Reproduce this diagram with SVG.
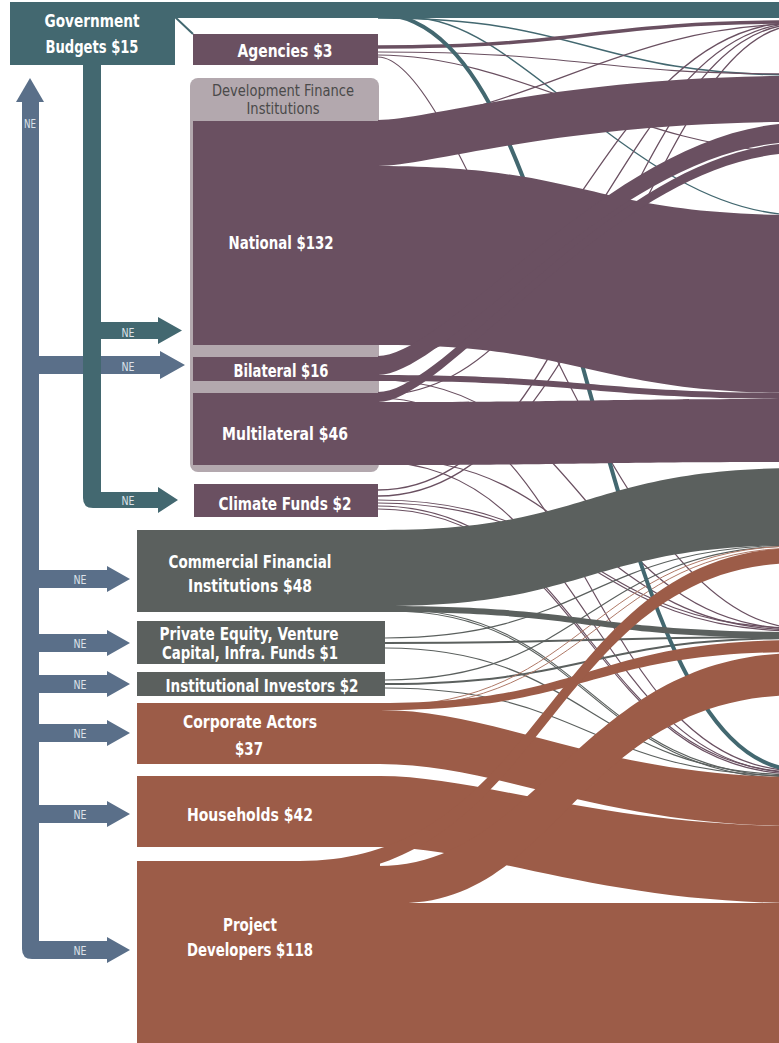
<svg xmlns="http://www.w3.org/2000/svg" width="779" height="1043" viewBox="0 0 779 1043">
<style>
.teal{fill:#436870}.pur{fill:#6a5061}.gry{fill:#5b605e}.rst{fill:#9c5c48}.blu{fill:#5a6f89}
.lt{fill:none;stroke:#436870}.lp{fill:none;stroke:#6a5061}.lg{fill:none;stroke:#5b605e}.lr{fill:none;stroke:#b07a68}
.lbl{font-family:"DejaVu Sans Condensed","Liberation Sans Narrow","Roboto",sans-serif;font-weight:bold;font-size:18.5px;fill:#fff;text-anchor:middle}
.ne{font-family:"DejaVu Sans Condensed","Liberation Sans",sans-serif;font-size:13px;fill:#dde3ea;text-anchor:middle}
.dfi{font-family:"DejaVu Sans Condensed","Liberation Sans",sans-serif;font-size:15px;fill:#4a4a4a;text-anchor:middle}
</style>
<rect width="779" height="1043" fill="#fff"/>
<g id="ne-arrows">
<path class="blu" d="M22,102 L39,102 L39,941 L107,941 L107,937 L130,950 L107,963 L107,959 L32,959 Q22,959 22,949 Z"/>
<path class="blu" d="M16,102 L30,78 L44,102 Z"/>
<path class="blu" d="M39,570 H107 V566 L130,579 L107,592 V588 H39 Z"/>
<path class="blu" d="M39,634 H107 V630 L130,643 L107,656 V652 H39 Z"/>
<path class="blu" d="M39,675 H107 V671 L130,684 L107,697 V693 H39 Z"/>
<path class="blu" d="M39,724 H107 V720 L130,733 L107,746 V742 H39 Z"/>
<path class="blu" d="M39,805 H107 V801 L130,814 L107,827 V823 H39 Z"/>
<path class="blu" d="M39,356 H160 V351 L185,365 L160,379 V374 H39 Z"/>
<path class="teal" d="M83,60 L101,60 L101,492 L158,492 L158,487 L178,500 L158,513 L158,508 L93,508 Q83,508 83,498 Z"/>
<path class="teal" d="M101,322 H158 V317 L182,330.5 L158,344 V339 H101 Z"/>
<text class="ne" x="30" y="128" textLength="12" lengthAdjust="spacingAndGlyphs">NE</text>
<text class="ne" x="128" y="337" textLength="13" lengthAdjust="spacingAndGlyphs">NE</text>
<text class="ne" x="128" y="371" textLength="13" lengthAdjust="spacingAndGlyphs">NE</text>
<text class="ne" x="128" y="505" textLength="13" lengthAdjust="spacingAndGlyphs">NE</text>
<text class="ne" x="80" y="584" textLength="13" lengthAdjust="spacingAndGlyphs">NE</text>
<text class="ne" x="80" y="648" textLength="13" lengthAdjust="spacingAndGlyphs">NE</text>
<text class="ne" x="80" y="689" textLength="13" lengthAdjust="spacingAndGlyphs">NE</text>
<text class="ne" x="80" y="738" textLength="13" lengthAdjust="spacingAndGlyphs">NE</text>
<text class="ne" x="80" y="819" textLength="13" lengthAdjust="spacingAndGlyphs">NE</text>
<text class="ne" x="80" y="955" textLength="13" lengthAdjust="spacingAndGlyphs">NE</text>
</g>
<g id="dfi-group">
<rect x="190" y="78" width="189" height="394" rx="8" fill="#b3a8ae"/>
<text class="dfi" x="283" y="96" textLength="142" lengthAdjust="spacingAndGlyphs">Development Finance</text>
<text class="dfi" x="283" y="114" textLength="73" lengthAdjust="spacingAndGlyphs">Institutions</text>
</g>
<g id="connectors">
<path class="lt" stroke-width="1.5" d="M378,18 C589,18 589,75 800,75"/>
<path class="lt" stroke-width="1.3" d="M413,18 C520,18 640,215 800,215"/>
<path class="lt" stroke-width="2" d="M175,17 L193,34"/>
<path class="lp" stroke-width="3.5" d="M378,47 C589,47 589,22 800,22"/>
<path class="lp" stroke-width="1.2" d="M378,52 C589,52 589,74 800,74"/>
<path class="lp" stroke-width="1.2" d="M378,55 C520,55 640,152 800,152"/>
<path class="lp" stroke-width="1.2" d="M378,57 C470,57 600,628 800,628"/>
<path class="lp" stroke-width="1.3" d="M378,121 C520,121 620,24 800,24"/>
<path class="lp" stroke-width="1.3" d="M378,360 C560,360 600,22 800,22"/>
<path class="lp" stroke-width="1.3" d="M378,395 C580,395 620,23 800,23"/>
<path class="lp" stroke-width="1.3" d="M378,490 C590,490 620,24 800,24"/>
<path class="lp" stroke-width="1.3" d="M378,496 C600,496 650,25 800,25"/>
<path class="lp" stroke-width="1.2" d="M378,380 C589,380 589,629 800,629"/>
<path class="lp" stroke-width="1.2" d="M378,398 C589,398 589,771 800,771"/>
<path class="lp" stroke-width="1.2" d="M378,458 C589,458 589,630 800,630"/>
<path class="lp" stroke-width="1.2" d="M378,462 C589,462 589,773 800,773"/>
<path class="lp" stroke-width="1.2" d="M378,500 C589,500 589,628 800,628"/>
<path class="lp" stroke-width="1.2" d="M378,503 C589,503 589,631 800,631"/>
<path class="lp" stroke-width="1.2" d="M378,506 C589,506 589,772 800,772"/>
<path class="lp" stroke-width="1.2" d="M378,509 C589,509 589,774 800,774"/>
<path class="lg" stroke-width="1.2" d="M385,638 C589,638 589,545 800,545"/>
<path class="lg" stroke-width="2" d="M385,643 C589,643 589,637 800,637"/>
<path class="lg" stroke-width="1.2" d="M385,648 C589,648 589,775 800,775"/>
<path class="lg" stroke-width="1.2" d="M385,680 C589,680 589,546 800,546"/>
<path class="lg" stroke-width="2" d="M385,684 C589,684 589,638 800,638"/>
<path class="lg" stroke-width="1.2" d="M385,688 C589,688 589,776 800,776"/>
<path class="lg" stroke-width="1.2" d="M390,609 C589,609 589,777 800,777"/>
<path class="lg" stroke-width="1.2" d="M390,611 C589,611 589,779 800,779"/>
<path class="lr" stroke-width="1" d="M380,706 C589,706 589,546 800,546"/>
<path class="lr" stroke-width="1" d="M380,708 C600,708 600,548 800,548"/>
<path class="lt" stroke-width="4" d="M378,14 C590,14 590,770 800,770"/>
<path class="pur" d="M378,120 C430,120 560,76 800,76 L800,122 C560,122 430,166 378,166 Z"/>
<path class="pur" d="M378,166 C589,166 589,215 800,215 L800,393 C589,393 589,345 378,345 Z"/>
<path class="pur" d="M378,356 C450,356 620,123 800,123 L800,142 C620,142 450,375 378,375 Z"/>
<path class="pur" d="M378,392 C450,392 620,143 800,143 L800,153 C620,153 450,402 378,402 Z"/>
<path class="pur" d="M378,375 C589,375 589,393 800,393 L800,399 C589,399 589,381 378,381 Z"/>
<path class="pur" d="M378,402 C589,402 589,399 800,399 L800,462 C589,462 589,465 378,465 Z"/>
<path class="gry" d="M385,530 C589,530 589,468 800,468 L800,545 C589,545 589,606 385,606 Z"/>
<path class="gry" d="M385,606 C589,606 589,632 800,632 L800,638 C589,638 589,612 385,612 Z"/>
<path class="rst" d="M380,703 C589,703 589,640 800,640 L800,652 C589,652 589,710 380,710 Z"/>
<path class="rst" d="M380,710 C500,710 600,777 800,777 L800,826 C600,826 500,764 380,764 Z"/>
<path class="rst" d="M380,776 C480,776 600,826 800,826 L800,903 C600,903 480,847 380,847 Z"/>
<path class="rst" d="M300,861 C550,861 550,548 800,548 L800,563 C550,563 550,876 300,876 Z"/>
<path class="rst" d="M378,866 C540,866 580,653 800,653 L800,695 C580,695 560,903 400,903 L378,903 Z"/>
<rect class="rst" x="378" y="903" width="422" height="140"/>
</g>
<g id="gov">
<rect class="teal" x="10" y="2" width="165" height="63"/>
<rect class="teal" x="174" y="2" width="605" height="16"/>
<text class="lbl" x="92" y="27" textLength="95" lengthAdjust="spacingAndGlyphs">Government</text>
<text class="lbl" x="92" y="53" textLength="93" lengthAdjust="spacingAndGlyphs">Budgets $15</text>
</g>
<g id="agencies"><rect class="pur" x="193" y="34" width="185" height="31"/><text class="lbl" x="285" y="57" textLength="95" lengthAdjust="spacingAndGlyphs">Agencies $3</text></g>
<g id="national"><rect class="pur" x="193" y="121" width="186" height="224"/><text class="lbl" x="281" y="249" textLength="105" lengthAdjust="spacingAndGlyphs">National $132</text></g>
<g id="bilateral"><rect class="pur" x="193" y="357" width="186" height="24"/><text class="lbl" x="281" y="377" textLength="95" lengthAdjust="spacingAndGlyphs">Bilateral $16</text></g>
<g id="multilateral"><rect class="pur" x="193" y="393" width="186" height="72"/><text class="lbl" x="285" y="440" textLength="126" lengthAdjust="spacingAndGlyphs">Multilateral $46</text></g>
<g id="climate-funds"><rect class="pur" x="194" y="484" width="184" height="33"/><text class="lbl" x="285" y="510" textLength="133" lengthAdjust="spacingAndGlyphs">Climate Funds $2</text></g>
<g id="commercial"><rect class="gry" x="137" y="530" width="250" height="82"/><text class="lbl" x="250" y="568" textLength="163" lengthAdjust="spacingAndGlyphs">Commercial Financial</text><text class="lbl" x="250" y="592" textLength="124" lengthAdjust="spacingAndGlyphs">Institutions $48</text></g>
<g id="private-equity"><rect class="gry" x="137" y="621" width="248" height="43"/><text class="lbl" x="249" y="640" textLength="179" lengthAdjust="spacingAndGlyphs">Private Equity, Venture</text><text class="lbl" x="250" y="659" textLength="176" lengthAdjust="spacingAndGlyphs">Capital, Infra. Funds $1</text></g>
<g id="institutional"><rect class="gry" x="137" y="672" width="248" height="24"/><text class="lbl" x="262" y="692" textLength="193" lengthAdjust="spacingAndGlyphs">Institutional Investors $2</text></g>
<g id="corporate"><rect class="rst" x="137" y="703" width="245" height="61"/><text class="lbl" x="250" y="728" textLength="134" lengthAdjust="spacingAndGlyphs">Corporate Actors</text><text class="lbl" x="249" y="755" textLength="28" lengthAdjust="spacingAndGlyphs">$37</text></g>
<g id="households"><rect class="rst" x="137" y="776" width="245" height="71"/><text class="lbl" x="250" y="821" textLength="126" lengthAdjust="spacingAndGlyphs">Households $42</text></g>
<g id="project-developers"><rect class="rst" x="137" y="861" width="243" height="182"/><text class="lbl" x="250" y="931" textLength="54" lengthAdjust="spacingAndGlyphs">Project</text><text class="lbl" x="250" y="956" textLength="126" lengthAdjust="spacingAndGlyphs">Developers $118</text></g>
</svg>
